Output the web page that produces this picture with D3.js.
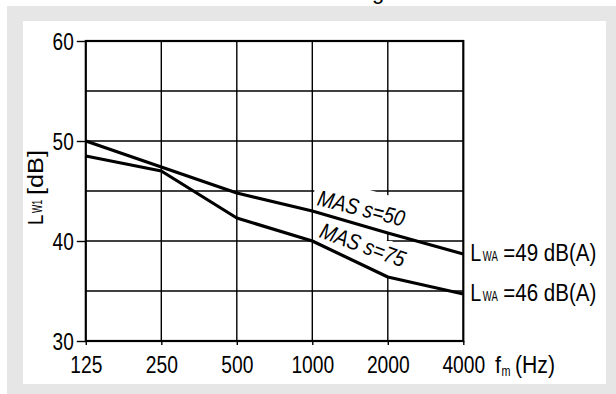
<!DOCTYPE html>
<html>
<head>
<meta charset="utf-8">
<script src="https://cdn.jsdelivr.net/npm/d3@7"></script>
<style>
  body { margin: 0; background: #fff; }
  svg { display: block; font-family: "Liberation Sans", Arial, sans-serif; }
</style>
</head>
<body>
<div id="chart"></div>
<script>
// frequency bands (Hz) and sound power levels
var freqs = [125, 250, 500, 1000, 2000, 4000];
var mas50 = [50, 47.4, 44.8, 43.0, 40.8, 38.7];
var mas75 = [48.5, 47.0, 42.3, 40.0, 36.4, 34.7];
var yTicks = [30, 40, 50, 60];
var yGrid = [35, 45, 55];
var curveNames = ["MAS s=50", "MAS s=75"];
var endLabels = ["=49 dB(A)", "=46 dB(A)"];

var svgWidth = 616;
var svgHeight = 394;

// the original uses a condensed face, squeeze the glyphs to that width
function squeeze(sel, w) {
  sel.attr("textLength", w).attr("lengthAdjust", "spacingAndGlyphs");
}

var svg = d3.select("#chart")
  .append("svg")
  .attr("width", svgWidth)
  .attr("height", svgHeight);

// grey frame + white panel
svg.append("rect").attr("x", 7).attr("y", 6).attr("width", 609).attr("height", 388).attr("fill", "#e6e6e6");
svg.append("rect").attr("x", 23).attr("y", 21).attr("width", 583).attr("height", 363).attr("fill", "#fff");

// bit of a title cut off at the top
svg.append("text").attr("x", 378).attr("y", -1).attr("text-anchor", "middle")
  .attr("font-size", 22).text("g");

var x = d3.scaleLog().base(2).domain([125, 4000]).range([85.8, 463.3]);
var y = d3.scaleLinear().domain([30, 60]).range([341, 41]);

var grid = svg.append("g").attr("stroke", "#000").attr("stroke-width", 1.4);
grid.selectAll("line.v")
  .data(freqs.slice(1, -1))
  .enter()
  .append("line")
  .attr("x1", d => x(d)).attr("x2", d => x(d))
  .attr("y1", y(60)).attr("y2", y(30));
grid.selectAll("line.h")
  .data(yGrid.concat([40, 50]))
  .enter()
  .append("line")
  .attr("x1", x(125)).attr("x2", x(4000))
  .attr("y1", d => y(d)).attr("y2", d => y(d));

// white patches behind the curve names (they cut the grid in the original)
var a1x = x(1000), a1y = y(mas50[3]);
var masks = [
  [[2, -25], [54, -22], [82, -14], [82, 22], [70, 22], [2, 0]],
  [[2, 25], [74.5, 25], [74.5, 30], [80, 30], [98, 58], [98, 68], [80, 68], [2, 40]]
];
svg.selectAll("polygon.mask")
  .data(masks)
  .enter()
  .append("polygon")
  .attr("fill", "#fff")
  .attr("points", d => d.map(p => (a1x + p[0]) + "," + (a1y + p[1])).join(" "));

// frame
svg.append("rect")
  .attr("x", x(125)).attr("y", y(60))
  .attr("width", x(4000) - x(125)).attr("height", y(30) - y(60))
  .attr("fill", "none").attr("stroke", "#000").attr("stroke-width", 2.2);

var yAxis = d3.axisLeft(y).tickValues(yTicks).tickSize(9).tickSizeOuter(0).tickPadding(3);
var yg = svg.append("g").attr("transform", "translate(" + x(125) + ",0)").call(yAxis);
yg.select(".domain").remove();
yg.selectAll("line").attr("stroke-width", 1.4);
yg.selectAll("text").attr("font-size", 23.5).attr("font-family", null).attr("fill", "#000")
  .attr("dy", "0.36em")
  .each(function(d) { squeeze(d3.select(this), String(d).length * 10.6); });

var xAxis = d3.axisBottom(x).tickValues(freqs).tickSize(4).tickSizeOuter(0).tickPadding(11.5).tickFormat(d3.format("d"));
var xg = svg.append("g").attr("transform", "translate(0," + y(30) + ")").call(xAxis);
xg.select(".domain").remove();
xg.selectAll("line").attr("stroke-width", 1.4);
xg.selectAll("text").attr("font-size", 23.5).attr("font-family", null).attr("fill", "#000")
  .each(function(d) { squeeze(d3.select(this), String(d).length * 10.7); });

// curves
var line = d3.line().x((d, i) => x(freqs[i])).y(d => y(d));
svg.selectAll("path.curve")
  .data([mas50, mas75])
  .enter()
  .append("path")
  .attr("d", line)
  .attr("fill", "none")
  .attr("stroke", "#000")
  .attr("stroke-width", 3.2)
  .attr("stroke-linejoin", "round");

// curve names along the lines
svg.append("text")
  .attr("transform", "translate(" + (x(1000) + 4) + "," + (y(mas50[3]) - 6) + ") rotate(14)")
  .attr("font-size", 22.5).attr("font-style", "italic").text(curveNames[0])
  .call(squeeze, 89);
svg.append("text")
  .attr("transform", "translate(" + (x(1000) + 6) + "," + (y(mas75[3]) - 4) + ") rotate(20)")
  .attr("font-size", 22.5).attr("font-style", "italic").text(curveNames[1])
  .call(squeeze, 89);

// a text made of separate pieces: [string, dx, width, size, dy]
// each piece is scaled horizontally so its real box has the wanted width
function pieces(g, parts) {
  parts.forEach(function(p) {
    var t = g.append("text")
      .attr("font-size", p[3])
      .text(p[0]);
    var sx = p[2] / t.node().getComputedTextLength();
    t.attr("transform", "translate(" + p[1] + "," + (p[4] || 0) + ") scale(" + sx + ",1)");
  });
}

// end labels L_WA
[mas50, mas75].forEach(function(s, i) {
  var g = svg.append("g")
    .attr("transform", "translate(" + (x(4000) + 7) + "," + (y(s[s.length - 1]) + 7) + ")");
  pieces(g, [["L", 0, 11, 23.5], ["WA", 12.5, 15, 15.5], ["=" + endLabels[i].slice(1), 33, 93, 23.5]]);
});

// axis titles
var yt = svg.append("g").attr("transform", "translate(43,225) rotate(-90)");
pieces(yt, [["L", 0, 10.5, 22.5], ["W1", 12, 13, 15.5, -1], ["[dB]", 30, 45, 22.5]]);

var xt = svg.append("g").attr("transform", "translate(495,372.5)");
pieces(xt, [["f", 0, 6, 23.5], ["m", 6.5, 9, 14, 3], ["(Hz)", 20, 40, 23.5]]);
</script>
</body>
</html>
